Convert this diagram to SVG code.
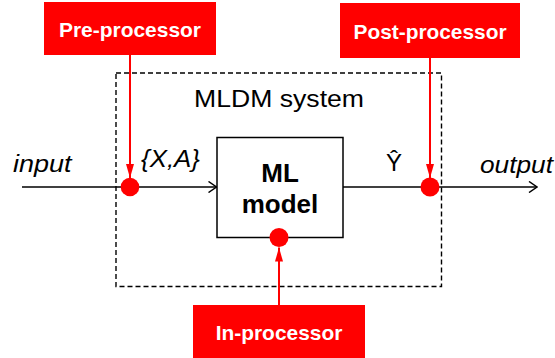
<svg xmlns="http://www.w3.org/2000/svg" width="555" height="358" viewBox="0 0 555 358">
<defs>
<style>
.lbl{font-family:"Liberation Sans",Arial,sans-serif;fill:#000}
.it{font-style:italic}
.proc{fill:#FF0000}
.ptxt{font-family:"Liberation Sans",Arial,sans-serif;font-weight:bold;font-size:21px;fill:#fff;text-anchor:middle}
.wire{stroke:#000;stroke-width:1.5;fill:none}
.rwire{stroke:#FF0000;stroke-width:2;fill:none}
.dot{fill:#FF0000}
</style>
<marker id="open" viewBox="0 0 10 12" refX="9" refY="6" markerWidth="10" markerHeight="12" markerUnits="userSpaceOnUse" orient="auto">
<path d="M1,0.5 L9,6 L1,11.5" fill="none" stroke="#000" stroke-width="1.5"/>
</marker>
<marker id="red" viewBox="0 0 14 8" refX="14" refY="4" markerWidth="14" markerHeight="8" markerUnits="userSpaceOnUse" orient="auto">
<path d="M0,0 L14,4 L0,8 Z" fill="#FF0000"/>
</marker>
</defs>
<rect width="555" height="358" fill="#fff"/>
<g id="system">
<rect x="116" y="73" width="325.5" height="213.5" fill="none" stroke="#000" stroke-width="1.4" stroke-dasharray="5,3"/>
<text class="lbl" x="194" y="106.5" font-size="23.5" textLength="170" lengthAdjust="spacingAndGlyphs">MLDM system</text>
</g>
<g id="connectors">
<line class="wire" x1="22" y1="187" x2="216.5" y2="187" marker-end="url(#open)"/>
<line class="wire" x1="343" y1="187" x2="537" y2="187" marker-end="url(#open)"/>
<line class="rwire" x1="130" y1="55" x2="130" y2="178" marker-end="url(#red)"/>
<line class="rwire" x1="430" y1="58" x2="430" y2="178" marker-end="url(#red)"/>
<line class="rwire" x1="279" y1="305" x2="279" y2="247.5" marker-end="url(#red)"/>
</g>
<g id="ml-model">
<rect x="217" y="137.5" width="126" height="100" fill="#fff" stroke="#000" stroke-width="1.5"/>
<text class="lbl" x="280" y="181.5" font-size="26" font-weight="bold" text-anchor="middle">ML</text>
<text class="lbl" x="280" y="212.5" font-size="26" font-weight="bold" text-anchor="middle">model</text>
</g>
<g id="labels">
<text class="lbl it" x="13" y="172" font-size="24.5" textLength="58.5" lengthAdjust="spacingAndGlyphs">input</text>
<text class="lbl it" x="141" y="167" font-size="24" textLength="59" lengthAdjust="spacingAndGlyphs">{X,A}</text>
<text class="lbl" x="386" y="171" font-size="24">Ŷ</text>
<text class="lbl it" x="480" y="173" font-size="24.5" textLength="73" lengthAdjust="spacingAndGlyphs">output</text>
</g>
<g id="dots">
<circle class="dot" cx="130" cy="187" r="9.3"/>
<circle class="dot" cx="430" cy="187" r="9.5"/>
<circle class="dot" cx="279" cy="237.5" r="9.5"/>
</g>
<g id="pre-processor">
<rect class="proc" x="44" y="2" width="172" height="53"/>
<text class="ptxt" x="130" y="36.5" textLength="142" lengthAdjust="spacingAndGlyphs">Pre-processor</text>
</g>
<g id="post-processor">
<rect class="proc" x="340" y="3" width="180" height="55"/>
<text class="ptxt" x="430" y="39" textLength="153" lengthAdjust="spacingAndGlyphs">Post-processor</text>
</g>
<g id="in-processor">
<rect class="proc" x="193" y="305" width="172" height="55"/>
<text class="ptxt" x="279" y="340" textLength="126.6" lengthAdjust="spacingAndGlyphs">In-processor</text>
</g>
</svg>
